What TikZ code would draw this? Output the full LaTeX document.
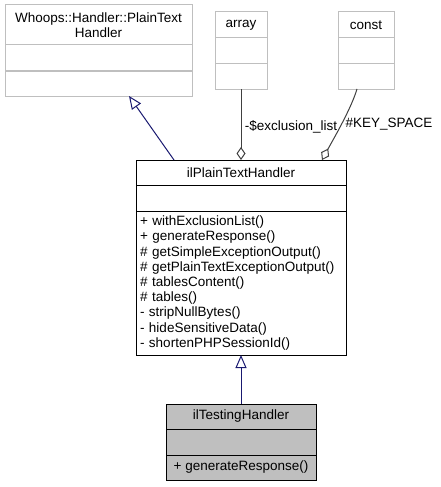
\documentclass[tikz,border=0pt]{standalone}
\usepackage{fontspec}
\setmainfont{Liberation Sans}
\usepackage{tikz}
\usetikzlibrary{positioning}
\usetikzlibrary{arrows.meta}
\definecolor{grayline}{HTML}{BFBFBF}
\definecolor{inheritblue}{HTML}{191970}
\definecolor{usegray}{HTML}{404040}

\begin{document}
\begin{tikzpicture}[
x=1pt, y=-1pt,
font=\fontsize{13.5}{15.2}\selectfont,
classpart/.style={rectangle, draw, fill=white, line width=1pt, inner sep=0pt, outer sep=0pt, minimum height=25pt},
extpart/.style={classpart, draw=grayline},
inherit/.style={draw=inheritblue, line width=1pt, -{Triangle[open, length=13pt, width=11pt]}},
usage/.style={draw=usegray, line width=1pt, -{Diamond[open, length=13pt, width=9pt]}}
]
\useasboundingbox (0,0) rectangle (440,487);

%Nodes
\node[extpart, minimum width=187pt, minimum height=40pt, align=center] (whoops) at (98.5,25) {Whoops::Handler::PlainText\\Handler};
\node[extpart, minimum width=187pt, minimum height=26pt] (whoopsattr) [below=0pt of whoops] {};
\node[extpart, minimum width=187pt] (whoopsops) [below=0pt of whoopsattr] {};

\node[extpart, minimum width=52pt, minimum height=26pt] (array) at (241,25) {array};
\node[extpart, minimum width=52pt, minimum height=26pt] (arrayattr) [below=0pt of array] {};
\node[extpart, minimum width=52pt] (arrayops) [below=0pt of arrayattr] {};

\node[extpart, minimum width=56pt, minimum height=26pt] (const) at (366,25) {const};
\node[extpart, minimum width=56pt, minimum height=26pt] (constattr) [below=0pt of const] {};
\node[extpart, minimum width=56pt] (constops) [below=0pt of constattr] {};

\node[classpart, minimum width=210pt] (plain) at (241,172.5) {ilPlainTextHandler};
\node[classpart, minimum width=210pt, minimum height=26pt] (plainattr) [below=0pt of plain] {};
\node[classpart, minimum width=210pt, minimum height=144pt, text width=202pt, align=left] (plainops) [below=0pt of plainattr] {+ withExclusionList()\\+ generateResponse()\\\# getSimpleExceptionOutput()\\\# getPlainTextExceptionOutput()\\\# tablesContent()\\\# tables()\\- stripNullBytes()\\- hideSensitiveData()\\- shortenPHPSessionId()};

\node[classpart, fill=grayline, minimum width=150pt] (testing) at (241,416.5) {ilTestingHandler};
\node[classpart, fill=grayline, minimum width=150pt, minimum height=26pt] (testingattr) [below=0pt of testing] {};
\node[classpart, fill=grayline, minimum width=150pt] (testingops) [below=0pt of testingattr] {+ generateResponse()};

%Lines
\draw[inherit] ([xshift=-67pt]plain.north) -- ([xshift=30.5pt]whoopsops.south);
\draw[inherit] (testing.north) -- (plainops.south);
\draw[usage] (arrayops.south) -- node[right, pos=0.535] {-\$exclusion\_list} (plain.north);
\draw[usage] ([xshift=-9pt]constops.south) .. controls +(-6,20) and +(12,-22) .. ([xshift=81pt]plain.north) node[right, pos=0.5] {\#KEY\_SPACE};

\end{tikzpicture}
\end{document}
